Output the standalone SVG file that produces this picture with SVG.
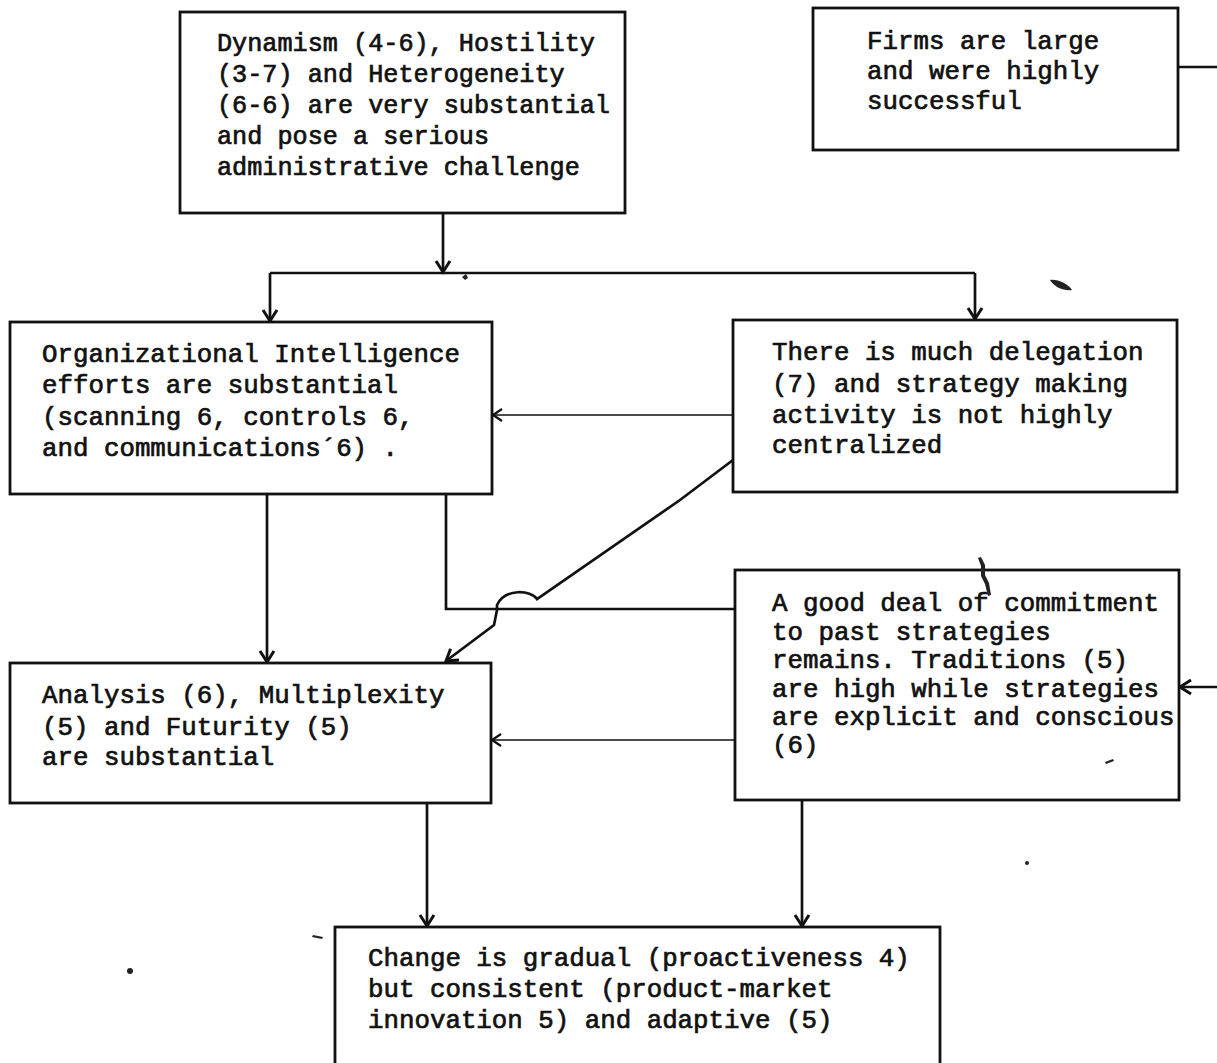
<svg xmlns="http://www.w3.org/2000/svg" width="1217" height="1063" viewBox="0 0 1217 1063">
  <style>
    .box { fill: #fff; stroke: #111; stroke-width: 2.8; }
    .lbl { font-family: "Liberation Mono", "DejaVu Sans Mono", monospace; font-size: 25.8px; fill: #111; stroke: #111; stroke-width: 0.7; }
    .wire { fill: none; stroke: #111; stroke-width: 2.7; }
    .thin { fill: none; stroke: #111; stroke-width: 1.7; }
    .speck { fill: #222; }
  </style>
  <defs>
    <marker id="arrow" markerUnits="userSpaceOnUse" markerWidth="20" markerHeight="20" refX="0" refY="0" viewBox="-14 -10 16 20" orient="auto">
      <path d="M-11,-7 L0,0 L-11,7" fill="none" stroke="#111" stroke-width="3" stroke-linejoin="miter"/>
    </marker>
    <marker id="arrowThin" markerUnits="userSpaceOnUse" markerWidth="20" markerHeight="20" refX="0" refY="0" viewBox="-14 -10 16 20" orient="auto">
      <path d="M-9,-6 L0,0 L-9,6" fill="none" stroke="#111" stroke-width="2.2"/>
    </marker>
  </defs>
  <rect width="1217" height="1063" fill="#fff"/>

  <!-- connectors -->
  <g id="connectors">
    <path class="wire" d="M443,213 V272" marker-end="url(#arrow)"/>
    <path class="wire" d="M270,273 H975"/>
    <path class="wire" d="M270,273 V321" marker-end="url(#arrow)"/>
    <path class="wire" d="M975,273 V319" marker-end="url(#arrow)"/>
    <path class="wire" d="M1178,67 H1217"/>
    <path class="thin" d="M733,415 H493" marker-end="url(#arrowThin)"/>
    <path class="wire" d="M733,460 L680,500 L537,599 C531,590 505,588 497,605 L497,610 L494,625 L446,661" marker-end="url(#arrow)"/>
    <path class="wire" d="M446,494 V609 H735"/>
    <path class="wire" d="M267,494 V662" marker-end="url(#arrow)"/>
    <path class="thin" d="M735,740 H492" marker-end="url(#arrowThin)"/>
    <path class="wire" d="M1217,687 H1180" marker-end="url(#arrow)"/>
    <path class="wire" d="M427,803 V926" marker-end="url(#arrow)"/>
    <path class="wire" d="M802,800 V926" marker-end="url(#arrow)"/>
  </g>

  <g id="environment">
    <rect class="box" x="180" y="12" width="445" height="201"/>
    <text class="lbl" style="font-size:25.2px">
      <tspan x="217" y="51">Dynamism (4-6), Hostility</tspan>
      <tspan x="217" y="82">(3-7) and Heterogeneity</tspan>
      <tspan x="217" y="113">(6-6) are very substantial</tspan>
      <tspan x="217" y="144">and pose a serious</tspan>
      <tspan x="217" y="175">administrative challenge</tspan>
    </text>
  </g>

  <g id="firms">
    <rect class="box" x="813" y="8" width="365" height="142"/>
    <text class="lbl">
      <tspan x="867" y="49">Firms are large</tspan>
      <tspan x="867" y="79">and were highly</tspan>
      <tspan x="867" y="109">successful</tspan>
    </text>
  </g>

  <g id="intelligence">
    <rect class="box" x="10" y="322" width="482" height="172"/>
    <text class="lbl">
      <tspan x="42" y="362">Organizational Intelligence</tspan>
      <tspan x="42" y="393">efforts are substantial</tspan>
      <tspan x="42" y="425">(scanning 6, controls 6,</tspan>
      <tspan x="42" y="456">and communications´6) .</tspan>
    </text>
  </g>

  <g id="delegation">
    <rect class="box" x="733" y="320" width="444" height="172"/>
    <text class="lbl">
      <tspan x="772" y="360">There is much delegation</tspan>
      <tspan x="772" y="392">(7) and strategy making</tspan>
      <tspan x="772" y="423">activity is not highly</tspan>
      <tspan x="772" y="453">centralized</tspan>
    </text>
  </g>

  <g id="commitment">
    <rect class="box" x="735" y="570" width="444" height="230"/>
    <text class="lbl">
      <tspan x="772" y="611">A good deal of commitment</tspan>
      <tspan x="772" y="640">to past strategies</tspan>
      <tspan x="772" y="668">remains.  Traditions (5)</tspan>
      <tspan x="772" y="697">are high while strategies</tspan>
      <tspan x="772" y="725">are explicit and conscious</tspan>
      <tspan x="772" y="753">(6)</tspan>
    </text>
  </g>

  <g id="analysis">
    <rect class="box" x="10" y="663" width="481" height="140"/>
    <text class="lbl">
      <tspan x="42" y="703">Analysis (6), Multiplexity</tspan>
      <tspan x="42" y="735">(5) and Futurity (5)</tspan>
      <tspan x="42" y="765">are substantial</tspan>
    </text>
  </g>

  <g id="change">
    <rect class="box" x="335" y="927" width="605" height="170"/>
    <text class="lbl">
      <tspan x="368" y="966">Change is gradual (proactiveness  4)</tspan>
      <tspan x="368" y="997">but consistent (product-market</tspan>
      <tspan x="368" y="1028">innovation 5) and adaptive (5)</tspan>
    </text>
  </g>

  <!-- small marks on the sheet -->
  <g id="marks">
    <path class="speck" d="M1050,280 C1058,279 1068,284 1072,290 C1064,291 1055,288 1050,280 Z"/>
    <path class="speck" d="M462,277 l4,-3 l2,4 l-3,2 Z"/>
    <path class="speck" d="M981,557 l4,8 l0,10 l4,8 l2,12 l-3,1 l-3,-12 l-4,-8 l0,-10 l-3,-8 Z"/>
    <path class="speck" d="M313,935 l10,2 l-1,2 l-10,-2 Z"/>
    <circle class="speck" cx="130" cy="971" r="3"/>
    <circle class="speck" cx="1027" cy="863" r="2"/>
    <path class="speck" d="M1105,762 l8,-3 l1,2 l-8,3 Z"/>
  </g>
</svg>
